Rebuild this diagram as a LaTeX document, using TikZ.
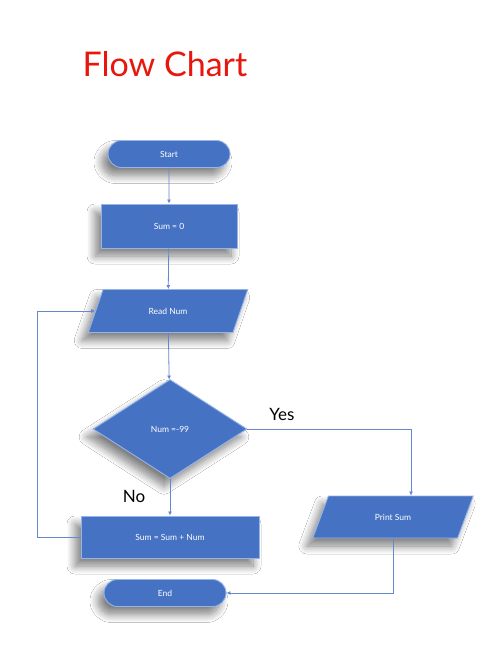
\documentclass[tikz,border=0pt]{standalone}
\usepackage{fontspec}
\setmainfont{Lato}
\usetikzlibrary{shapes.geometric,shapes.misc,shadows.blur,arrows.meta}
\definecolor{boxblue}{RGB}{70,114,196}
\definecolor{edgeblue}{RGB}{150,180,230}
\definecolor{lineblue}{RGB}{100,135,205}
\definecolor{titlered}{RGB}{232,22,12}
\tikzset{
  x=1pt, y=-1pt,
  fbox/.style={fill=boxblue, draw=edgeblue, line width=0.9pt, text=white, font=\fontsize{8.5}{10}\selectfont,
    inner sep=0pt, blur shadow={shadow xshift=-6pt, shadow yshift=-8pt, shadow blur radius=8pt, shadow blur steps=10, shadow opacity=50}},
  termbox/.style={fbox, rounded rectangle, minimum width=122pt, minimum height=27pt},
  procbox/.style={fbox, rectangle},
  iobox/.style={fbox, trapezium, trapezium left angle=55, trapezium right angle=125, trapezium stretches=true},
  decbox/.style={fbox, diamond, minimum width=154pt, minimum height=99pt},
  conn/.style={draw=lineblue, line width=0.8pt, -{Latex[length=4pt,width=4pt]}},
  lbl/.style={font=\fontsize{17}{19}\selectfont, text=black}
}
\begin{document}
\begin{tikzpicture}
\useasboundingbox[fill=white] (0,0) rectangle (502,646);
\node[text=titlered, font=\fontsize{34}{38}\selectfont] (title) at (165,64) {Flow Chart};
\node[termbox] (start) at (169,154) {Start};
\node[procbox, minimum width=136pt, minimum height=44pt] (s0) at (169,226) {Sum = 0};
\node[iobox, minimum width=160pt, minimum height=43pt] (rn) at (168,311) {Read Num};
\node[decbox] (dec) at (170,429) {Num =-99};
\node[procbox, minimum width=178pt, minimum height=42pt] (ss) at (170,537) {Sum = Sum + Num};
\node[termbox] (end) at (165,593) {End};
\node[iobox, minimum width=161pt, minimum height=42pt] (ps) at (393,517) {Print Sum};
\node[lbl] (yes) at (282,414) {Yes};
\node[lbl] (no) at (134,496) {No};
\coordinate (yc) at (411,429);
\coordinate (lc) at (37,537);
\draw[conn] (start) -- (s0);
\draw[conn] (s0) -- (rn);
\draw[conn] (rn) -- (dec);
\draw[conn] (dec) -- (ss);
\draw[conn] (dec.east) -- (yc) -- (yc |- ps.north);
\draw[conn] (ps.south) |- (end.east);
\draw[conn] (ss.west) -- (lc) |- (rn);
\end{tikzpicture}
\end{document}
